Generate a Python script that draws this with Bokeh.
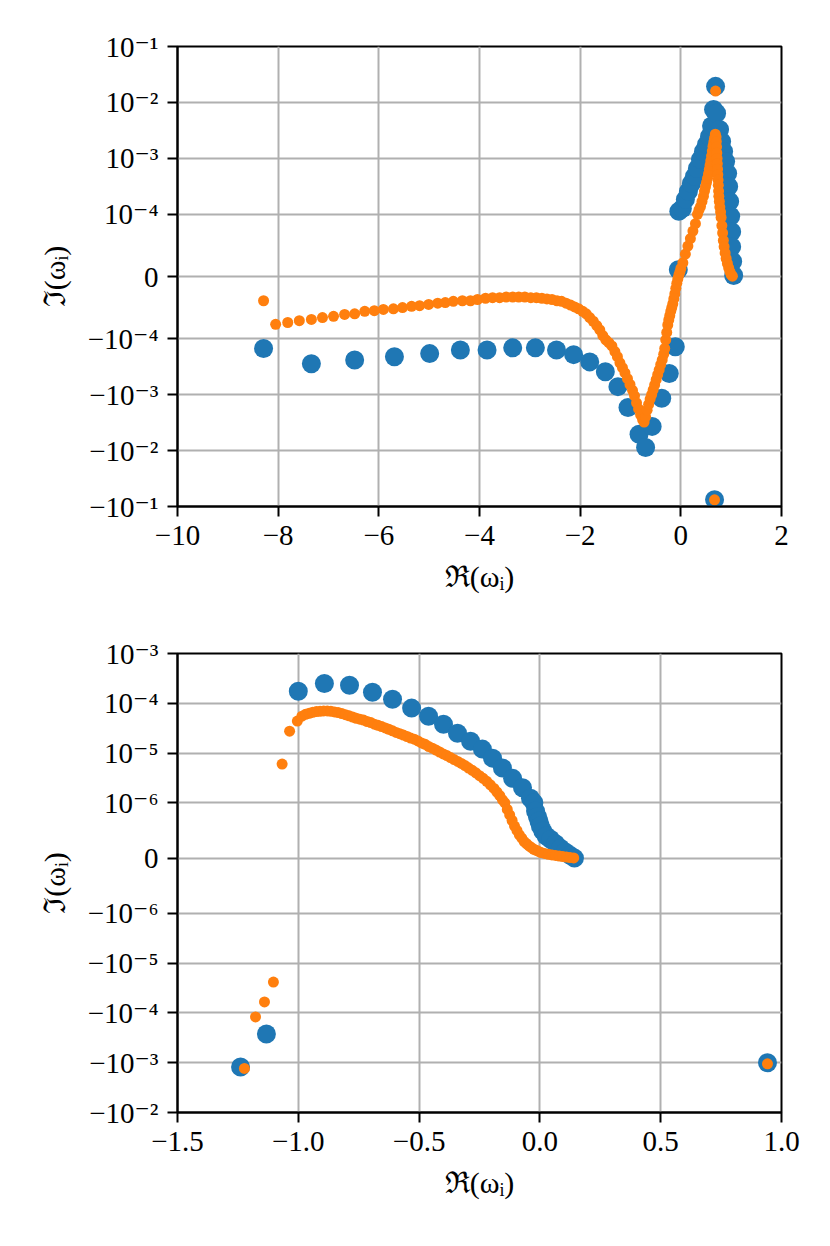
import numpy as np
from bokeh.plotting import figure
from bokeh.models import ColumnDataSource, FixedTicker, CustomJSTickFormatter, Range1d
from bokeh.layouts import column
from bokeh.embed import file_html
from bokeh.resources import INLINE

# ---------------- data ----------------
top_blue_re = [-8.29, -7.34, -6.48, -5.69, -4.99, -4.38, -3.85, -3.34, -2.89, -2.47,
               -2.13, -1.81, -1.50, -1.25, -1.05, -0.83, -0.70, -0.57, -0.38, -0.23,
               -0.11, -0.05, -0.04, 0.03, 0.09, 0.15, 0.21, 0.27, 0.33, 0.39,
               0.45, 0.51, 0.57, 0.61, 0.65, 0.69,
               0.71, 0.77, 0.81, 0.85, 0.89, 0.93, 0.95, 0.97, 0.99, 1.01, 1.01, 1.03, 1.05,
               0.67]
top_blue_im = [-1.5e-4, -2.8e-4, -2.4e-4, -2.1e-4, -1.85e-4, -1.6e-4, -1.6e-4, -1.46e-4, -1.46e-4, -1.6e-4,
               -1.93e-4, -2.6e-4, -3.9e-4, -7.2e-4, -1.7e-3, -5.1e-3, -8.8e-3, -3.7e-3, -1.16e-3, -4.2e-4,
               -1.4e-4, 1.1e-5, 1.13e-4, 1.27e-4, 1.85e-4, 2.57e-4, 3.57e-4, 4.77e-4, 6.6e-4, 9.6e-4,
               1.33e-3, 1.78e-3, 2.47e-3, 3.8e-3, 7.5e-3, 1.94e-2,
               6.4e-3, 3.3e-3, 2.0e-3, 1.33e-3, 8.8e-4, 5.4e-4, 3.15e-4, 1.7e-4, 9.7e-5, 7.2e-5, 4.8e-5, 2.4e-5, 1.6e-6,
               -7.6e-2]

top_orange_re = ([-8.29, -8.05, -7.81, -7.58, -7.34, -7.12, -6.90, -6.68, -6.48, -6.28, -6.09,
                  -5.91, -5.71, -5.53, -5.35, -5.19, -5.01, -4.83, -4.68, -4.52, -4.34, -4.18, -4.04, -3.88]
                 + [-3.74, -3.60, -3.47, -3.34, -3.22, -3.10, -2.98, -2.87, -2.76, -2.66,
                    -2.56, -2.46, -2.37, -2.28, -2.19, -2.11, -2.03, -1.95, -1.88, -1.81,
                    -1.74, -1.67, -1.61, -1.55, -1.49, -1.43, -1.37, -1.31, -1.26, -1.21,
                    -1.16, -1.11, -1.06, -1.01, -0.96, -0.92, -0.88, -0.84, -0.80, -0.76, -0.73]
                 + [-0.70, -0.67, -0.64, -0.61, -0.58, -0.55, -0.52, -0.49, -0.46, -0.43,
                    -0.40, -0.37, -0.34, -0.32, -0.30, -0.28, -0.26, -0.24, -0.22, -0.20,
                    -0.18, -0.16, -0.14, -0.12, -0.10, -0.08, -0.06, -0.04, -0.02]
                 + [0.00, 0.04, 0.09, 0.14, 0.19, 0.24, 0.29, 0.33, 0.36, 0.39,
                    0.42, 0.45, 0.47, 0.49, 0.51, 0.53, 0.55, 0.565, 0.58, 0.595,
                    0.61, 0.625, 0.64, 0.655, 0.67, 0.685]
                 + [0.70, 0.705, 0.71, 0.715, 0.72, 0.725, 0.73, 0.735, 0.74, 0.745,
                    0.75, 0.755, 0.765, 0.775, 0.79, 0.80, 0.815, 0.83, 0.845, 0.86,
                    0.88, 0.90, 0.925, 0.95, 0.975, 1.00, 1.025]
                 + [0.69, 0.67])
top_orange_im = ([-3.9e-5, -7.7e-5, -7.4e-5, -7.1e-5, -6.9e-5, -6.6e-5, -6.4e-5, -6.1e-5, -6.0e-5, -5.6e-5, -5.5e-5,
                  -5.3e-5, -5.2e-5, -5.0e-5, -4.8e-5, -4.7e-5, -4.5e-5, -4.3e-5, -4.2e-5, -4.0e-5, -3.9e-5, -3.9e-5, -3.7e-5, -3.5e-5]
                 + [-3.4e-5, -3.4e-5, -3.3e-5, -3.3e-5, -3.3e-5, -3.3e-5, -3.4e-5, -3.4e-5, -3.5e-5, -3.6e-5,
                    -3.7e-5, -3.9e-5, -4.0e-5, -4.3e-5, -4.6e-5, -4.9e-5, -5.2e-5, -5.6e-5, -6.0e-5, -6.6e-5,
                    -7.2e-5, -7.9e-5, -8.6e-5, -9.5e-5, -1.05e-4, -1.18e-4, -1.35e-4, -1.7e-4, -2.1e-4, -2.7e-4,
                    -3.3e-4, -4.1e-4, -5.2e-4, -6.6e-4, -8.4e-4, -1.05e-3, -1.4e-3, -1.8e-3, -2.3e-3, -2.8e-3, -3.1e-3]
                 + [-2.5e-3, -1.9e-3, -1.5e-3, -1.2e-3, -1.0e-3, -8.2e-4, -6.7e-4, -5.4e-4, -4.4e-4, -3.6e-4,
                    -2.9e-4, -2.4e-4, -1.9e-4, -1.5e-4, -1.05e-4, -9.0e-5, -7.8e-5, -7.0e-5, -6.3e-5, -5.6e-5,
                    -5.0e-5, -4.4e-5, -3.6e-5, -2.8e-5, -1.9e-5, -1.1e-5, -4e-6, 2e-6, 7e-6]
                 + [1.3e-5, 2.2e-5, 3.6e-5, 4.9e-5, 6.1e-5, 7.3e-5, 8.5e-5, 1.0e-4, 1.2e-4, 1.38e-4,
                    1.7e-4, 2.1e-4, 2.6e-4, 3.1e-4, 3.7e-4, 4.4e-4, 5.3e-4, 6.3e-4, 7.5e-4, 9.0e-4,
                    1.1e-3, 1.35e-3, 1.65e-3, 1.95e-3, 2.3e-3, 2.7e-3]
                 + [2.4e-3, 2.0e-3, 1.6e-3, 1.25e-3, 1.0e-3, 8.0e-4, 6.4e-4, 5.1e-4, 4.1e-4, 3.3e-4,
                    2.6e-4, 2.1e-4, 1.7e-4, 1.35e-4, 1.1e-4, 9.5e-5, 8.2e-5, 7.0e-5, 5.8e-5, 4.8e-5,
                    3.8e-5, 2.9e-5, 2.1e-5, 1.4e-5, 8e-6, 3e-6, 5e-7]
                 + [1.6e-2, -7.6e-2])

bot_blue_re = [-1.000, -0.892, -0.788, -0.693, -0.610, -0.531, -0.461, -0.399, -0.341, -0.287,
               -0.238, -0.196, -0.155, -0.113, -0.072, -0.039, -0.025, -0.018, -0.010, -0.004,
               0.002, 0.012, 0.026, 0.044, 0.065, 0.085, 0.105, 0.125, 0.143,
               -1.239, -1.132, 0.942]
bot_blue_im = [1.75e-4, 2.5e-4, 2.3e-4, 1.67e-4, 1.2e-4, 8.0e-5, 5.5e-5, 3.8e-5, 2.5e-5, 1.73e-5,
               1.2e-5, 7.9e-6, 5.0e-6, 3.1e-6, 2.0e-6, 1.24e-6, 1.0e-6, 0.85e-6, 0.75e-6, 0.67e-6,
               0.58e-6, 0.49e-6, 0.40e-6, 0.34e-6, 0.26e-6, 0.18e-6, 0.11e-6, 0.05e-6, 0.0,
               -1.22e-3, -2.65e-4, -1.0e-3]

bot_orange_re = ([-1.067, -1.036, -1.004]
                 + [-0.985, -0.970, -0.955, -0.940, -0.925, -0.910, -0.895, -0.880, -0.865, -0.850,
                    -0.835, -0.820, -0.805, -0.790, -0.775, -0.760, -0.745, -0.730, -0.715, -0.700,
                    -0.685, -0.670, -0.655, -0.640, -0.625, -0.610, -0.595, -0.580, -0.565, -0.550,
                    -0.535, -0.520, -0.505, -0.490, -0.475, -0.460, -0.445, -0.430, -0.415, -0.400,
                    -0.385, -0.370, -0.355, -0.340, -0.325, -0.310, -0.295, -0.280, -0.265, -0.250,
                    -0.235, -0.220, -0.205, -0.190]
                 + [-0.178, -0.166, -0.155, -0.145]
                 + [-0.135, -0.125, -0.115, -0.105, -0.095, -0.085, -0.075, -0.065, -0.055, -0.045,
                    -0.035, -0.025, -0.015, -0.005]
                 + [0.005, 0.020, 0.035, 0.050, 0.065, 0.080, 0.095, 0.110, 0.125, 0.140]
                 + [-1.223, -1.177, -1.140, -1.103, 0.942])
bot_orange_im = ([6.0e-6, 2.75e-5, 4.4e-5]
                 + [5.5e-5, 6.0e-5, 6.3e-5, 6.6e-5, 6.8e-5, 6.9e-5, 7.0e-5, 7.0e-5, 6.9e-5, 6.7e-5,
                    6.5e-5, 6.2e-5, 5.9e-5, 5.6e-5, 5.3e-5, 5.0e-5, 4.8e-5, 4.6e-5, 4.3e-5, 4.1e-5,
                    3.8e-5, 3.6e-5, 3.4e-5, 3.2e-5, 3.0e-5, 2.8e-5, 2.6e-5, 2.45e-5, 2.3e-5, 2.15e-5,
                    2.0e-5, 1.9e-5, 1.75e-5, 1.6e-5, 1.5e-5, 1.35e-5, 1.25e-5, 1.15e-5, 1.05e-5, 9.6e-6,
                    8.9e-6, 8.1e-6, 7.4e-6, 6.8e-6, 6.2e-6, 5.6e-6, 5.0e-6, 4.5e-6, 4.0e-6, 3.5e-6,
                    3.1e-6, 2.7e-6, 2.3e-6, 1.95e-6]
                 + [1.65e-6, 1.4e-6, 1.15e-6, 1.0e-6]
                 + [0.88e-6, 0.78e-6, 0.68e-6, 0.58e-6, 0.50e-6, 0.42e-6, 0.36e-6, 0.30e-6, 0.26e-6, 0.22e-6,
                    0.19e-6, 0.16e-6, 0.14e-6, 0.12e-6]
                 + [0.10e-6, 0.085e-6, 0.07e-6, 0.058e-6, 0.048e-6, 0.038e-6, 0.028e-6, 0.018e-6, 0.010e-6, 0.004e-6]
                 + [-1.3e-3, -1.2e-4, -6.0e-5, -2.4e-5, -1.05e-3])

top_x_ticks = [-10, -8, -6, -4, -2, 0, 2]
top_x_labels = ["\u221210", "\u22128", "\u22126", "\u22124", "\u22122", "0", "2"]
top_y_ticks = [-1e-1, -1e-2, -1e-3, -1e-4, 0.0, 1e-4, 1e-3, 1e-2, 1e-1]
top_y_labels = ["\u221210\u207b\u00b9", "\u221210\u207b\u00b2", "\u221210\u207b\u00b3", "\u221210\u207b\u2074",
                "0", "10\u207b\u2074", "10\u207b\u00b3", "10\u207b\u00b2", "10\u207b\u00b9"]
bot_x_ticks = [-1.5, -1.0, -0.5, 0.0, 0.5, 1.0]
bot_x_labels = ["\u22121.5", "\u22121.0", "\u22120.5", "0.0", "0.5", "1.0"]
bot_y_ticks = [-1e-2, -1e-3, -1e-4, -1e-5, -1e-6, 0.0, 1e-6, 1e-5, 1e-4, 1e-3]
bot_y_labels = ["\u221210\u207b\u00b2", "\u221210\u207b\u00b3", "\u221210\u207b\u2074", "\u221210\u207b\u2075",
                "\u221210\u207b\u2076", "0", "10\u207b\u2076", "10\u207b\u2075", "10\u207b\u2074", "10\u207b\u00b3"]

TOP_LINTHRESH = 1e-4
BOT_LINTHRESH = 1e-6

BLUE = "#1f77b4"
ORANGE = "#ff7f0e"
SERIF = "Liberation Serif, DejaVu Serif"

# ---------------- symlog transform (matplotlib style, base 10, linscale 1) ----------------
LINSCALE = 1.0 / (1.0 - 1.0 / 10.0)


def symlog(vals, lt):
    v = np.asarray(vals, dtype=float)
    a = np.abs(v)
    return np.where(a <= lt, v / lt * LINSCALE,
                    np.sign(v) * (LINSCALE + np.log10(np.maximum(a, lt) / lt)))


NEAREST_JS = """
let best = 0, d = Infinity;
for (let i = 0; i < pos.length; i++) {
  const e = Math.abs(pos[i] - tick);
  if (e < d) { d = e; best = i; }
}
return labs[best];
"""


def fmt(pos, labs):
    return CustomJSTickFormatter(args=dict(pos=list(map(float, pos)), labs=labs), code=NEAREST_JS)


def make_fig(xr, yticks_t, xticks, xlabels, ylabels, min_top, min_bottom, height):
    p = figure(width=830, height=height,
               x_range=Range1d(*xr), y_range=Range1d(yticks_t[0], yticks_t[-1]),
               output_backend="svg", toolbar_location=None,
               min_border_left=177, min_border_right=49,
               min_border_top=min_top, min_border_bottom=min_bottom)
    p.background_fill_color = "white"
    p.border_fill_color = "white"
    p.outline_line_color = "black"
    p.outline_line_width = 2
    p.outline_line_alpha = 1.0

    p.xaxis.ticker = FixedTicker(ticks=xticks)
    p.xaxis.formatter = fmt(xticks, xlabels)
    p.yaxis.ticker = FixedTicker(ticks=list(map(float, yticks_t)))
    p.yaxis.formatter = fmt(yticks_t, ylabels)

    for ax in (p.xaxis, p.yaxis):
        ax.axis_line_color = "black"
        ax.axis_line_width = 2
        ax.major_tick_line_color = "black"
        ax.major_tick_line_width = 2
        ax.major_tick_out = 10
        ax.major_tick_in = 0
        ax.minor_tick_line_color = None
        ax.major_label_text_font = SERIF
        ax.major_label_text_font_size = "29px"
        ax.major_label_text_color = "black"
        ax.major_label_standoff = 9
        ax.axis_label_text_font = SERIF
        ax.axis_label_text_font_size = "30px"
        ax.axis_label_text_font_style = "normal"
        ax.axis_label_text_color = "black"
    p.xaxis.axis_label_standoff = 12
    p.yaxis.axis_label_standoff = 14

    p.xaxis.axis_label = "\u211c(\u03c9\u1d62)"
    p.yaxis.axis_label = "\u2111(\u03c9\u1d62)"

    p.grid.grid_line_color = "#b0b0b0"
    p.grid.grid_line_width = 2
    return p


# ---------------- top panel ----------------
p1 = make_fig((-10, 2), symlog(top_y_ticks, TOP_LINTHRESH), top_x_ticks, top_x_labels, top_y_labels, 46, 117, 623)
src_tb = ColumnDataSource(dict(x=top_blue_re, y=symlog(top_blue_im, TOP_LINTHRESH)))
src_to = ColumnDataSource(dict(x=top_orange_re, y=symlog(top_orange_im, TOP_LINTHRESH)))
p1.scatter("x", "y", source=src_tb, size=19, fill_color=BLUE, line_color=None)
p1.scatter("x", "y", source=src_to, size=11, fill_color=ORANGE, line_color=None)

# ---------------- bottom panel ----------------
p2 = make_fig((-1.5, 1.0), symlog(bot_y_ticks, BOT_LINTHRESH), bot_x_ticks, bot_x_labels, bot_y_labels, 30, 134, 623)
src_bb = ColumnDataSource(dict(x=bot_blue_re, y=symlog(bot_blue_im, BOT_LINTHRESH)))
src_bo = ColumnDataSource(dict(x=bot_orange_re, y=symlog(bot_orange_im, BOT_LINTHRESH)))
p2.scatter("x", "y", source=src_bb, size=19, fill_color=BLUE, line_color=None)
p2.scatter("x", "y", source=src_bo, size=11, fill_color=ORANGE, line_color=None)

layout = column(p1, p2, spacing=0)
open("out.html", "w").write(file_html(layout, INLINE))
